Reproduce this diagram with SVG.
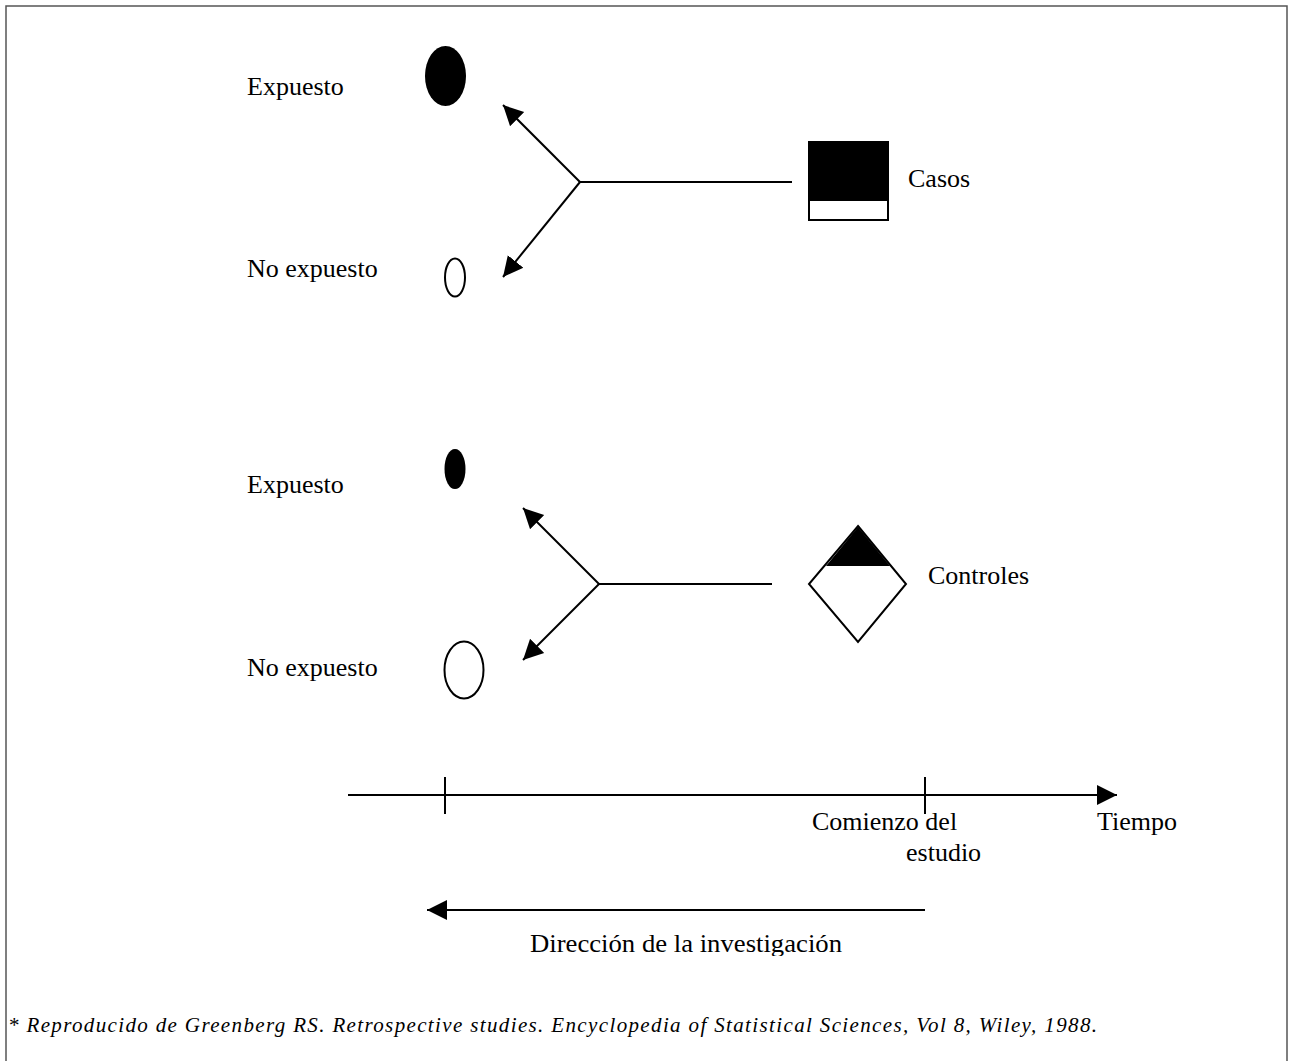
<svg xmlns="http://www.w3.org/2000/svg" width="1289" height="1061" viewBox="0 0 1289 1061">
<defs>
<style>
.t{font-family:"Liberation Serif","Times New Roman",serif;font-size:26px;fill:#000}
.fn{font-family:"Liberation Serif","Times New Roman",serif;font-size:21px;font-style:italic;fill:#000}
.ln{stroke:#000;stroke-width:2;fill:none}
.sh{stroke:#000;stroke-width:2}
</style>
<marker id="ah" markerUnits="userSpaceOnUse" markerWidth="22" markerHeight="22" viewBox="0 -11 22 22" refX="20" refY="0" orient="auto">
<path d="M0,-10 L20,0 L0,10 z" fill="#000"/>
</marker>
<clipPath id="clipDir"><rect x="0" y="0" width="1289" height="956"/></clipPath>
</defs>
<rect x="0" y="0" width="1289" height="1061" fill="#fff"/>
<path d="M6,1061 V6 H1287 V1061" fill="none" stroke="#555" stroke-width="1.5"/>

<g id="connectors">
<line class="ln" x1="580" y1="182" x2="792" y2="182"/>
<line class="ln" x1="580" y1="182" x2="503" y2="105" marker-end="url(#ah)"/>
<line class="ln" x1="580" y1="182" x2="503" y2="277" marker-end="url(#ah)"/>
<line class="ln" x1="599" y1="584" x2="772" y2="584"/>
<line class="ln" x1="599" y1="584" x2="523" y2="508" marker-end="url(#ah)"/>
<line class="ln" x1="599" y1="584" x2="523" y2="660" marker-end="url(#ah)"/>
<line class="ln" x1="348" y1="795" x2="1117" y2="795" marker-end="url(#ah)"/>
<line class="ln" x1="445" y1="777" x2="445" y2="814"/>
<line class="ln" x1="925" y1="777" x2="925" y2="814"/>
<line class="ln" x1="925" y1="910" x2="427" y2="910" marker-end="url(#ah)"/>
</g>

<g id="expuesto1">
<ellipse cx="445.5" cy="76" rx="20.5" ry="30" fill="#000"/>
<text class="t" x="247" y="95">Expuesto</text>
</g>
<g id="noexpuesto1">
<ellipse class="sh" cx="455" cy="277.5" rx="10" ry="19" fill="#fff"/>
<text class="t" x="247" y="277">No expuesto</text>
</g>
<g id="casos">
<rect class="sh" x="809" y="142" width="79" height="78" fill="#fff"/>
<rect x="809" y="142" width="79" height="59" fill="#000"/>
<text class="t" x="908" y="187">Casos</text>
</g>

<g id="expuesto2">
<ellipse cx="455" cy="469" rx="10.5" ry="20" fill="#000"/>
<text class="t" x="247" y="493">Expuesto</text>
</g>
<g id="noexpuesto2">
<ellipse class="sh" cx="464" cy="670" rx="19.5" ry="28.5" fill="#fff"/>
<text class="t" x="247" y="676">No expuesto</text>
</g>
<g id="controles">
<polygon class="sh" points="858,526 906,584 858,642 809,584" fill="#fff"/>
<polygon points="858,527 826,566 890,566" fill="#000"/>
<text class="t" x="928" y="584">Controles</text>
</g>

<g id="timeaxis">
<text class="t" x="812" y="830">Comienzo del</text>
<text class="t" x="906" y="861">estudio</text>
<text class="t" x="1097" y="830">Tiempo</text>
</g>
<g id="direction">
<text class="t" x="530" y="952" textLength="312" lengthAdjust="spacingAndGlyphs" clip-path="url(#clipDir)">Dirección de la investigación</text>
</g>
<g id="footnote">
<text class="fn" x="8" y="1032" textLength="1089" lengthAdjust="spacing">* Reproducido de Greenberg RS. Retrospective studies. Encyclopedia of Statistical Sciences, Vol 8, Wiley, 1988.</text>
</g>
</svg>
